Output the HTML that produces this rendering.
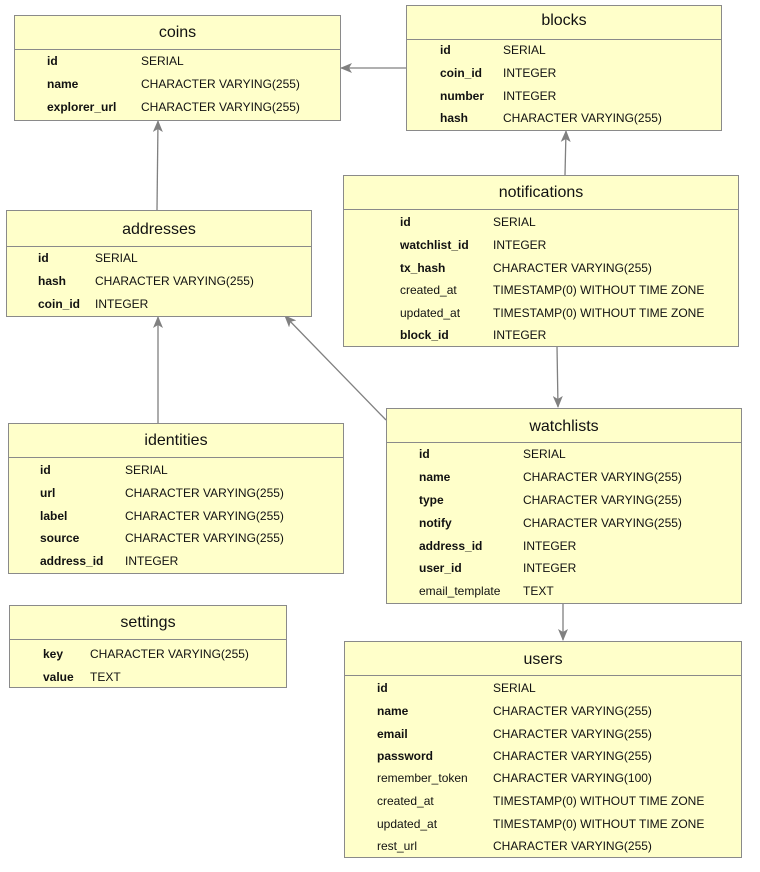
<!DOCTYPE html>
<html><head><meta charset="utf-8"><style>
body{margin:0;width:760px;height:872px;background:#fff;position:relative;font-family:"Liberation Sans",Arial,sans-serif;overflow:hidden}
.t{position:absolute;background:#ffffca;border:1px solid #8a8a8a;box-sizing:border-box}
.h{position:absolute;left:0;right:0;top:0;border-bottom:1px solid #8a8a8a;text-align:center;font-size:16px;color:#111}
.r{position:absolute;font-size:12px;color:#111;white-space:nowrap;line-height:14px}
.b{font-weight:bold}
svg{position:absolute;left:0;top:0}
</style></head><body>
<svg width="760" height="872">
<defs><marker id="a" markerWidth="12" markerHeight="10" refX="11" refY="5" orient="auto" markerUnits="userSpaceOnUse"><path d="M0,0 L12,5 L0,10 L3,5 Z" fill="#808080"/></marker></defs>
<g stroke="#808080" stroke-width="1.3" fill="none">
<line x1="406" y1="68" x2="341" y2="68" marker-end="url(#a)"/>
<line x1="157" y1="210" x2="158" y2="121" marker-end="url(#a)"/>
<line x1="565" y1="175" x2="566" y2="131" marker-end="url(#a)"/>
<line x1="557" y1="346" x2="558" y2="407" marker-end="url(#a)"/>
<line x1="158" y1="423" x2="158" y2="317" marker-end="url(#a)"/>
<line x1="386" y1="420" x2="285" y2="316" marker-end="url(#a)"/>
<line x1="563" y1="603" x2="563" y2="640" marker-end="url(#a)"/>
</g></svg>

<div class="t" style="left:14px;top:15px;width:327px;height:106px"><div class="h" style="height:33px;line-height:33px">coins</div></div>
<div class="t" style="left:406px;top:5px;width:316px;height:126px"><div class="h" style="height:33px;line-height:30px">blocks</div></div>
<div class="t" style="left:343px;top:175px;width:396px;height:172px"><div class="h" style="height:33px;line-height:33px">notifications</div></div>
<div class="t" style="left:6px;top:210px;width:306px;height:107px"><div class="h" style="height:35px;line-height:37px">addresses</div></div>
<div class="t" style="left:8px;top:423px;width:336px;height:151px"><div class="h" style="height:33px;line-height:33px">identities</div></div>
<div class="t" style="left:9px;top:605px;width:278px;height:83px"><div class="h" style="height:33px;line-height:33px">settings</div></div>
<div class="t" style="left:386px;top:408px;width:356px;height:196px"><div class="h" style="height:33px;line-height:35px">watchlists</div></div>
<div class="t" style="left:344px;top:641px;width:398px;height:217px"><div class="h" style="height:33px;line-height:36px">users</div></div>

<!-- coins -->
<div class="r b" style="left:47px;top:54px">id</div><div class="r" style="left:141px;top:54px">SERIAL</div>
<div class="r b" style="left:47px;top:77px">name</div><div class="r" style="left:141px;top:77px">CHARACTER VARYING(255)</div>
<div class="r b" style="left:47px;top:100px">explorer_url</div><div class="r" style="left:141px;top:100px">CHARACTER VARYING(255)</div>
<!-- blocks -->
<div class="r b" style="left:440px;top:43px">id</div><div class="r" style="left:503px;top:43px">SERIAL</div>
<div class="r b" style="left:440px;top:66px">coin_id</div><div class="r" style="left:503px;top:66px">INTEGER</div>
<div class="r b" style="left:440px;top:89px">number</div><div class="r" style="left:503px;top:89px">INTEGER</div>
<div class="r b" style="left:440px;top:111px">hash</div><div class="r" style="left:503px;top:111px">CHARACTER VARYING(255)</div>
<!-- notifications -->
<div class="r b" style="left:400px;top:215px">id</div><div class="r" style="left:493px;top:215px">SERIAL</div>
<div class="r b" style="left:400px;top:238px">watchlist_id</div><div class="r" style="left:493px;top:238px">INTEGER</div>
<div class="r b" style="left:400px;top:261px">tx_hash</div><div class="r" style="left:493px;top:261px">CHARACTER VARYING(255)</div>
<div class="r" style="left:400px;top:283px">created_at</div><div class="r" style="left:493px;top:283px">TIMESTAMP(0) WITHOUT TIME ZONE</div>
<div class="r" style="left:400px;top:306px">updated_at</div><div class="r" style="left:493px;top:306px">TIMESTAMP(0) WITHOUT TIME ZONE</div>
<div class="r b" style="left:400px;top:328px">block_id</div><div class="r" style="left:493px;top:328px">INTEGER</div>
<!-- addresses -->
<div class="r b" style="left:38px;top:251px">id</div><div class="r" style="left:95px;top:251px">SERIAL</div>
<div class="r b" style="left:38px;top:274px">hash</div><div class="r" style="left:95px;top:274px">CHARACTER VARYING(255)</div>
<div class="r b" style="left:38px;top:297px">coin_id</div><div class="r" style="left:95px;top:297px">INTEGER</div>
<!-- identities -->
<div class="r b" style="left:40px;top:463px">id</div><div class="r" style="left:125px;top:463px">SERIAL</div>
<div class="r b" style="left:40px;top:486px">url</div><div class="r" style="left:125px;top:486px">CHARACTER VARYING(255)</div>
<div class="r b" style="left:40px;top:509px">label</div><div class="r" style="left:125px;top:509px">CHARACTER VARYING(255)</div>
<div class="r b" style="left:40px;top:531px">source</div><div class="r" style="left:125px;top:531px">CHARACTER VARYING(255)</div>
<div class="r b" style="left:40px;top:554px">address_id</div><div class="r" style="left:125px;top:554px">INTEGER</div>
<!-- settings -->
<div class="r b" style="left:43px;top:647px">key</div><div class="r" style="left:90px;top:647px">CHARACTER VARYING(255)</div>
<div class="r b" style="left:43px;top:670px">value</div><div class="r" style="left:90px;top:670px">TEXT</div>
<!-- watchlists -->
<div class="r b" style="left:419px;top:447px">id</div><div class="r" style="left:523px;top:447px">SERIAL</div>
<div class="r b" style="left:419px;top:470px">name</div><div class="r" style="left:523px;top:470px">CHARACTER VARYING(255)</div>
<div class="r b" style="left:419px;top:493px">type</div><div class="r" style="left:523px;top:493px">CHARACTER VARYING(255)</div>
<div class="r b" style="left:419px;top:516px">notify</div><div class="r" style="left:523px;top:516px">CHARACTER VARYING(255)</div>
<div class="r b" style="left:419px;top:539px">address_id</div><div class="r" style="left:523px;top:539px">INTEGER</div>
<div class="r b" style="left:419px;top:561px">user_id</div><div class="r" style="left:523px;top:561px">INTEGER</div>
<div class="r" style="left:419px;top:584px">email_template</div><div class="r" style="left:523px;top:584px">TEXT</div>
<!-- users -->
<div class="r b" style="left:377px;top:681px">id</div><div class="r" style="left:493px;top:681px">SERIAL</div>
<div class="r b" style="left:377px;top:704px">name</div><div class="r" style="left:493px;top:704px">CHARACTER VARYING(255)</div>
<div class="r b" style="left:377px;top:727px">email</div><div class="r" style="left:493px;top:727px">CHARACTER VARYING(255)</div>
<div class="r b" style="left:377px;top:749px">password</div><div class="r" style="left:493px;top:749px">CHARACTER VARYING(255)</div>
<div class="r" style="left:377px;top:771px">remember_token</div><div class="r" style="left:493px;top:771px">CHARACTER VARYING(100)</div>
<div class="r" style="left:377px;top:794px">created_at</div><div class="r" style="left:493px;top:794px">TIMESTAMP(0) WITHOUT TIME ZONE</div>
<div class="r" style="left:377px;top:817px">updated_at</div><div class="r" style="left:493px;top:817px">TIMESTAMP(0) WITHOUT TIME ZONE</div>
<div class="r" style="left:377px;top:839px">rest_url</div><div class="r" style="left:493px;top:839px">CHARACTER VARYING(255)</div>
</body></html>
